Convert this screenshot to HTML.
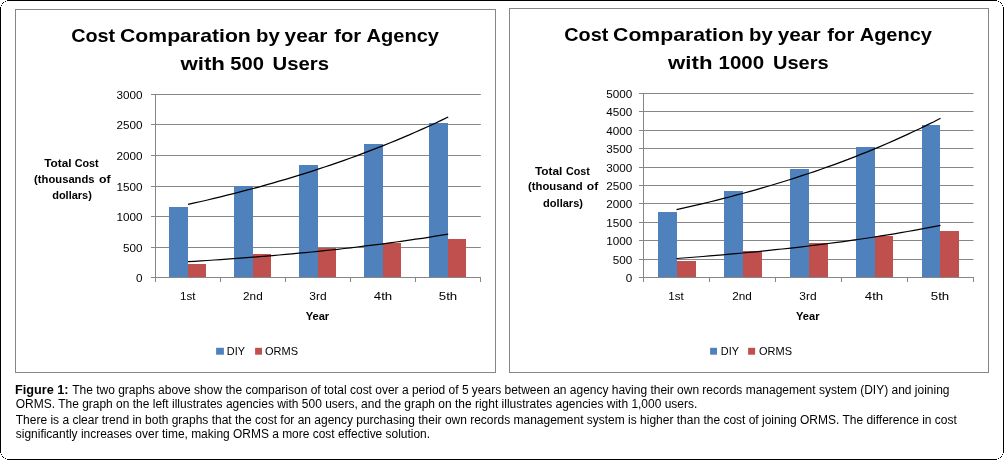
<!DOCTYPE html>
<html lang="en">
<head>
<meta charset="utf-8">
<title>Figure 1</title>
<style>
html,body{margin:0;padding:0;background:#fff;}
body{width:1004px;height:460px;overflow:hidden;}
svg{display:block;font-family:'Liberation Sans', sans-serif;}
</style>
</head>
<body>
<svg width="1004" height="460" viewBox="0 0 1004 460">
<rect width="1004" height="460" fill="#fff"/>
<path d="M7 0.5H997M1003.5 7V453M997 459.5H7M0.5 453V7" fill="none" stroke="#000" stroke-width="1"/>
<g fill="#000"><rect x="1" y="5" width="1" height="1"/><rect x="1" y="454" width="1" height="1"/><rect x="1002" y="5" width="1" height="1"/><rect x="1002" y="454" width="1" height="1"/><rect x="2" y="3" width="1" height="1"/><rect x="2" y="456" width="1" height="1"/><rect x="1001" y="3" width="1" height="1"/><rect x="1001" y="456" width="1" height="1"/><rect x="3" y="2" width="1" height="1"/><rect x="3" y="457" width="1" height="1"/><rect x="1000" y="2" width="1" height="1"/><rect x="1000" y="457" width="1" height="1"/><rect x="5" y="1" width="1" height="1"/><rect x="5" y="458" width="1" height="1"/><rect x="998" y="1" width="1" height="1"/><rect x="998" y="458" width="1" height="1"/></g>
<g>
<rect x="15.5" y="9.5" width="480" height="363" fill="#fff" stroke="#868686" stroke-width="1"/>
<line x1="151.0" y1="277.5" x2="480.8" y2="277.5" stroke="#868686" stroke-width="1"/>
<line x1="151.0" y1="247.5" x2="480.8" y2="247.5" stroke="#868686" stroke-width="1"/>
<line x1="151.0" y1="216.5" x2="480.8" y2="216.5" stroke="#868686" stroke-width="1"/>
<line x1="151.0" y1="186.5" x2="480.8" y2="186.5" stroke="#868686" stroke-width="1"/>
<line x1="151.0" y1="155.5" x2="480.8" y2="155.5" stroke="#868686" stroke-width="1"/>
<line x1="151.0" y1="124.5" x2="480.8" y2="124.5" stroke="#868686" stroke-width="1"/>
<line x1="151.0" y1="94.5" x2="480.8" y2="94.5" stroke="#868686" stroke-width="1"/>
<line x1="155.5" y1="94" x2="155.5" y2="282" stroke="#868686" stroke-width="1"/>
<line x1="220.5" y1="277" x2="220.5" y2="282" stroke="#868686" stroke-width="1"/>
<line x1="285.5" y1="277" x2="285.5" y2="282" stroke="#868686" stroke-width="1"/>
<line x1="350.5" y1="277" x2="350.5" y2="282" stroke="#868686" stroke-width="1"/>
<line x1="415.5" y1="277" x2="415.5" y2="282" stroke="#868686" stroke-width="1"/>
<line x1="480.5" y1="277" x2="480.5" y2="282" stroke="#868686" stroke-width="1"/>
<rect x="169" y="207" width="19" height="70" fill="#4f81bd"/>
<rect x="188" y="264" width="18" height="13" fill="#c0504d"/>
<rect x="234" y="186" width="19" height="91" fill="#4f81bd"/>
<rect x="253" y="254" width="18" height="23" fill="#c0504d"/>
<rect x="299" y="165" width="19" height="112" fill="#4f81bd"/>
<rect x="318" y="248" width="18" height="29" fill="#c0504d"/>
<rect x="364" y="144" width="19" height="133" fill="#4f81bd"/>
<rect x="383" y="243" width="18" height="34" fill="#c0504d"/>
<rect x="429" y="123" width="19" height="154" fill="#4f81bd"/>
<rect x="448" y="239" width="18" height="38" fill="#c0504d"/>
<polyline points="188.0,204.4 194.5,202.9 201.0,201.5 207.5,200.0 214.0,198.4 220.6,196.8 227.1,195.2 233.6,193.6 240.1,191.9 246.6,190.2 253.1,188.5 259.6,186.8 266.1,184.9 272.6,183.1 279.1,181.2 285.6,179.3 292.1,177.4 298.6,175.4 305.1,173.4 311.6,171.3 318.1,169.2 324.6,167.0 331.1,164.8 337.6,162.6 344.1,160.3 350.6,158.0 357.2,155.6 363.7,153.2 370.2,150.7 376.7,148.2 383.2,145.6 389.7,143.0 396.2,140.4 402.7,137.6 409.2,134.9 415.7,132.0 422.2,129.1 428.7,126.2 435.2,123.2 441.7,120.1 448.2,117.0" fill="none" stroke="#000" stroke-width="1.25"/>
<polyline points="188.0,261.7 194.5,261.3 201.0,260.9 207.5,260.5 214.0,260.0 220.6,259.6 227.1,259.1 233.6,258.6 240.1,258.2 246.6,257.7 253.1,257.2 259.6,256.6 266.1,256.1 272.6,255.6 279.1,255.0 285.6,254.4 292.1,253.8 298.6,253.2 305.1,252.6 311.6,252.0 318.1,251.3 324.6,250.6 331.1,250.0 337.6,249.3 344.1,248.5 350.6,247.8 357.2,247.0 363.7,246.2 370.2,245.4 376.7,244.6 383.2,243.8 389.7,242.9 396.2,242.0 402.7,241.1 409.2,240.2 415.7,239.2 422.2,238.3 428.7,237.3 435.2,236.2 441.7,235.2 448.2,234.1" fill="none" stroke="#000" stroke-width="1.25"/>
<text x="142.6" y="282.4" font-size="11.3" text-anchor="end" textLength="6.5" lengthAdjust="spacingAndGlyphs">0</text>
<text x="142.6" y="252.4" font-size="11.3" text-anchor="end" textLength="19.5" lengthAdjust="spacingAndGlyphs">500</text>
<text x="142.6" y="221.4" font-size="11.3" text-anchor="end" textLength="26" lengthAdjust="spacingAndGlyphs">1000</text>
<text x="142.6" y="191.4" font-size="11.3" text-anchor="end" textLength="26" lengthAdjust="spacingAndGlyphs">1500</text>
<text x="142.6" y="160.4" font-size="11.3" text-anchor="end" textLength="26" lengthAdjust="spacingAndGlyphs">2000</text>
<text x="142.6" y="129.4" font-size="11.3" text-anchor="end" textLength="26" lengthAdjust="spacingAndGlyphs">2500</text>
<text x="142.6" y="99.4" font-size="11.3" text-anchor="end" textLength="26" lengthAdjust="spacingAndGlyphs">3000</text>
<text x="187.8" y="299.8" font-size="11.3" text-anchor="middle" textLength="15.5" lengthAdjust="spacingAndGlyphs">1st</text>
<text x="252.9" y="299.8" font-size="11.3" text-anchor="middle" textLength="19.6" lengthAdjust="spacingAndGlyphs">2nd</text>
<text x="317.9" y="299.8" font-size="11.3" text-anchor="middle" textLength="17.3" lengthAdjust="spacingAndGlyphs">3rd</text>
<text x="383.0" y="299.8" font-size="11.3" text-anchor="middle" textLength="18.5" lengthAdjust="spacingAndGlyphs">4th</text>
<text x="448.0" y="299.8" font-size="11.3" text-anchor="middle" textLength="18.5" lengthAdjust="spacingAndGlyphs">5th</text>
<text x="317.4" y="319.7" font-size="11.3" text-anchor="middle" font-weight="bold" textLength="23.5" lengthAdjust="spacingAndGlyphs">Year</text>
<rect x="216.1" y="347.8" width="7.8" height="6.9" fill="#4f81bd"/>
<text x="226.79999999999998" y="355.4" font-size="11.3" textLength="18.2" lengthAdjust="spacingAndGlyphs">DIY</text>
<rect x="255.1" y="347.8" width="6.9" height="6.9" fill="#c0504d"/>
<text x="265.0" y="355.4" font-size="11.3" textLength="33.0" lengthAdjust="spacingAndGlyphs">ORMS</text>
<text x="71.2" y="41.9" font-size="19" font-weight="bold" textLength="44.0" lengthAdjust="spacingAndGlyphs">Cost</text>
<text x="120.0" y="41.9" font-size="19" font-weight="bold" textLength="130.8" lengthAdjust="spacingAndGlyphs">Comparation</text>
<text x="256.0" y="41.9" font-size="19" font-weight="bold" textLength="23.7" lengthAdjust="spacingAndGlyphs">by</text>
<text x="284.6" y="41.9" font-size="19" font-weight="bold" textLength="42.9" lengthAdjust="spacingAndGlyphs">year</text>
<text x="334.2" y="41.9" font-size="19" font-weight="bold" textLength="27.0" lengthAdjust="spacingAndGlyphs">for</text>
<text x="366.6" y="41.9" font-size="19" font-weight="bold" textLength="72.3" lengthAdjust="spacingAndGlyphs">Agency</text>
<text x="180.4" y="70.4" font-size="19" font-weight="bold" textLength="44.6" lengthAdjust="spacingAndGlyphs">with</text>
<text x="230.2" y="70.4" font-size="19" font-weight="bold" textLength="33.7" lengthAdjust="spacingAndGlyphs">500</text>
<text x="272.5" y="70.4" font-size="19" font-weight="bold" textLength="56.5" lengthAdjust="spacingAndGlyphs">Users</text>
<text x="44.2" y="166.7" font-size="11.3" font-weight="bold" textLength="27.4" lengthAdjust="spacingAndGlyphs">Total</text>
<text x="74.7" y="166.7" font-size="11.3" font-weight="bold" textLength="24.0" lengthAdjust="spacingAndGlyphs">Cost</text>
<text x="34.1" y="182.7" font-size="11.3" font-weight="bold" textLength="60.5" lengthAdjust="spacingAndGlyphs">(thousands</text>
<text x="98.9" y="182.7" font-size="11.3" font-weight="bold" textLength="11.6" lengthAdjust="spacingAndGlyphs">of</text>
<text x="52.2" y="198.5" font-size="11.3" font-weight="bold" textLength="39.7" lengthAdjust="spacingAndGlyphs">dollars)</text>
</g>
<g>
<rect x="509.5" y="8.5" width="479" height="364" fill="#fff" stroke="#868686" stroke-width="1"/>
<line x1="639.0" y1="277.5" x2="973.5" y2="277.5" stroke="#868686" stroke-width="1"/>
<line x1="639.0" y1="259.5" x2="973.5" y2="259.5" stroke="#868686" stroke-width="1"/>
<line x1="639.0" y1="240.5" x2="973.5" y2="240.5" stroke="#868686" stroke-width="1"/>
<line x1="639.0" y1="222.5" x2="973.5" y2="222.5" stroke="#868686" stroke-width="1"/>
<line x1="639.0" y1="203.5" x2="973.5" y2="203.5" stroke="#868686" stroke-width="1"/>
<line x1="639.0" y1="185.5" x2="973.5" y2="185.5" stroke="#868686" stroke-width="1"/>
<line x1="639.0" y1="167.5" x2="973.5" y2="167.5" stroke="#868686" stroke-width="1"/>
<line x1="639.0" y1="148.5" x2="973.5" y2="148.5" stroke="#868686" stroke-width="1"/>
<line x1="639.0" y1="130.5" x2="973.5" y2="130.5" stroke="#868686" stroke-width="1"/>
<line x1="639.0" y1="111.5" x2="973.5" y2="111.5" stroke="#868686" stroke-width="1"/>
<line x1="639.0" y1="93.5" x2="973.5" y2="93.5" stroke="#868686" stroke-width="1"/>
<line x1="643.5" y1="93" x2="643.5" y2="282" stroke="#868686" stroke-width="1"/>
<line x1="709.5" y1="277" x2="709.5" y2="282" stroke="#868686" stroke-width="1"/>
<line x1="775.5" y1="277" x2="775.5" y2="282" stroke="#868686" stroke-width="1"/>
<line x1="841.5" y1="277" x2="841.5" y2="282" stroke="#868686" stroke-width="1"/>
<line x1="907.5" y1="277" x2="907.5" y2="282" stroke="#868686" stroke-width="1"/>
<line x1="973.5" y1="277" x2="973.5" y2="282" stroke="#868686" stroke-width="1"/>
<rect x="658" y="212" width="19" height="65" fill="#4f81bd"/>
<rect x="677" y="261" width="19" height="16" fill="#c0504d"/>
<rect x="724" y="191" width="19" height="86" fill="#4f81bd"/>
<rect x="743" y="251" width="19" height="26" fill="#c0504d"/>
<rect x="790" y="169" width="19" height="108" fill="#4f81bd"/>
<rect x="809" y="243" width="19" height="34" fill="#c0504d"/>
<rect x="856" y="147" width="19" height="130" fill="#4f81bd"/>
<rect x="875" y="236" width="18" height="41" fill="#c0504d"/>
<rect x="922" y="125" width="18" height="152" fill="#4f81bd"/>
<rect x="940" y="231" width="19" height="46" fill="#c0504d"/>
<polyline points="676.5,209.6 683.1,208.1 689.7,206.6 696.3,205.1 702.9,203.6 709.5,202.0 716.1,200.3 722.7,198.7 729.3,197.0 735.9,195.2 742.5,193.5 749.1,191.7 755.7,189.8 762.3,187.9 768.9,186.0 775.5,184.0 782.1,182.0 788.7,180.0 795.3,177.9 801.9,175.7 808.5,173.5 815.1,171.3 821.7,169.0 828.3,166.7 834.9,164.3 841.5,161.8 848.1,159.4 854.7,156.8 861.3,154.2 867.9,151.6 874.5,148.8 881.1,146.1 887.7,143.2 894.3,140.4 900.9,137.4 907.5,134.4 914.1,131.3 920.7,128.2 927.3,124.9 933.9,121.7 940.5,118.3" fill="none" stroke="#000" stroke-width="1.25"/>
<polyline points="676.5,258.5 683.1,258.0 689.7,257.5 696.3,257.0 702.9,256.5 709.5,255.9 716.1,255.4 722.7,254.8 729.3,254.2 735.9,253.6 742.5,253.0 749.1,252.4 755.7,251.8 762.3,251.1 768.9,250.4 775.5,249.7 782.1,249.0 788.7,248.3 795.3,247.6 801.9,246.8 808.5,246.0 815.1,245.2 821.7,244.4 828.3,243.5 834.9,242.7 841.5,241.8 848.1,240.9 854.7,239.9 861.3,239.0 867.9,238.0 874.5,237.0 881.1,235.9 887.7,234.9 894.3,233.8 900.9,232.6 907.5,231.5 914.1,230.3 920.7,229.1 927.3,227.9 933.9,226.6 940.5,225.3" fill="none" stroke="#000" stroke-width="1.25"/>
<text x="632.3" y="282.4" font-size="11.3" text-anchor="end" textLength="6.5" lengthAdjust="spacingAndGlyphs">0</text>
<text x="632.3" y="264.4" font-size="11.3" text-anchor="end" textLength="19.5" lengthAdjust="spacingAndGlyphs">500</text>
<text x="632.3" y="245.4" font-size="11.3" text-anchor="end" textLength="26" lengthAdjust="spacingAndGlyphs">1000</text>
<text x="632.3" y="227.4" font-size="11.3" text-anchor="end" textLength="26" lengthAdjust="spacingAndGlyphs">1500</text>
<text x="632.3" y="208.4" font-size="11.3" text-anchor="end" textLength="26" lengthAdjust="spacingAndGlyphs">2000</text>
<text x="632.3" y="190.4" font-size="11.3" text-anchor="end" textLength="26" lengthAdjust="spacingAndGlyphs">2500</text>
<text x="632.3" y="172.4" font-size="11.3" text-anchor="end" textLength="26" lengthAdjust="spacingAndGlyphs">3000</text>
<text x="632.3" y="153.4" font-size="11.3" text-anchor="end" textLength="26" lengthAdjust="spacingAndGlyphs">3500</text>
<text x="632.3" y="135.4" font-size="11.3" text-anchor="end" textLength="26" lengthAdjust="spacingAndGlyphs">4000</text>
<text x="632.3" y="116.4" font-size="11.3" text-anchor="end" textLength="26" lengthAdjust="spacingAndGlyphs">4500</text>
<text x="632.3" y="98.4" font-size="11.3" text-anchor="end" textLength="26" lengthAdjust="spacingAndGlyphs">5000</text>
<text x="676.0" y="299.8" font-size="11.3" text-anchor="middle" textLength="15.5" lengthAdjust="spacingAndGlyphs">1st</text>
<text x="742.0" y="299.8" font-size="11.3" text-anchor="middle" textLength="19.6" lengthAdjust="spacingAndGlyphs">2nd</text>
<text x="808.0" y="299.8" font-size="11.3" text-anchor="middle" textLength="17.3" lengthAdjust="spacingAndGlyphs">3rd</text>
<text x="874.0" y="299.8" font-size="11.3" text-anchor="middle" textLength="18.5" lengthAdjust="spacingAndGlyphs">4th</text>
<text x="940.0" y="299.8" font-size="11.3" text-anchor="middle" textLength="18.5" lengthAdjust="spacingAndGlyphs">5th</text>
<text x="807.8" y="319.7" font-size="11.3" text-anchor="middle" font-weight="bold" textLength="23.5" lengthAdjust="spacingAndGlyphs">Year</text>
<rect x="710.1" y="347.8" width="6.9" height="6.9" fill="#4f81bd"/>
<text x="720.8000000000001" y="355.4" font-size="11.3" textLength="18.2" lengthAdjust="spacingAndGlyphs">DIY</text>
<rect x="748.1" y="347.8" width="7.0" height="6.9" fill="#c0504d"/>
<text x="759.0" y="355.4" font-size="11.3" textLength="33.0" lengthAdjust="spacingAndGlyphs">ORMS</text>
<text x="564.3" y="40.9" font-size="19" font-weight="bold" textLength="44.0" lengthAdjust="spacingAndGlyphs">Cost</text>
<text x="613.1" y="40.9" font-size="19" font-weight="bold" textLength="130.8" lengthAdjust="spacingAndGlyphs">Comparation</text>
<text x="749.1" y="40.9" font-size="19" font-weight="bold" textLength="23.7" lengthAdjust="spacingAndGlyphs">by</text>
<text x="777.7" y="40.9" font-size="19" font-weight="bold" textLength="42.9" lengthAdjust="spacingAndGlyphs">year</text>
<text x="827.3" y="40.9" font-size="19" font-weight="bold" textLength="27.0" lengthAdjust="spacingAndGlyphs">for</text>
<text x="859.7" y="40.9" font-size="19" font-weight="bold" textLength="72.3" lengthAdjust="spacingAndGlyphs">Agency</text>
<text x="668.1" y="69.4" font-size="19" font-weight="bold" textLength="44.4" lengthAdjust="spacingAndGlyphs">with</text>
<text x="718.5" y="69.4" font-size="19" font-weight="bold" textLength="45.6" lengthAdjust="spacingAndGlyphs">1000</text>
<text x="773.0" y="69.4" font-size="19" font-weight="bold" textLength="55.7" lengthAdjust="spacingAndGlyphs">Users</text>
<text x="534.9" y="174.5" font-size="11.3" font-weight="bold" textLength="27.5" lengthAdjust="spacingAndGlyphs">Total</text>
<text x="565.9" y="174.5" font-size="11.3" font-weight="bold" textLength="23.9" lengthAdjust="spacingAndGlyphs">Cost</text>
<text x="528.0" y="190.4" font-size="11.3" font-weight="bold" textLength="54.7" lengthAdjust="spacingAndGlyphs">(thousand</text>
<text x="586.8" y="190.4" font-size="11.3" font-weight="bold" textLength="11.5" lengthAdjust="spacingAndGlyphs">of</text>
<text x="543.1" y="206.5" font-size="11.3" font-weight="bold" textLength="39.9" lengthAdjust="spacingAndGlyphs">dollars)</text>
</g>
<g>
<text x="15.0" y="393.7" font-size="12" font-weight="bold" textLength="53.6" lengthAdjust="spacingAndGlyphs">Figure 1:</text>
<text x="72.2" y="393.7" font-size="12" textLength="877.3" lengthAdjust="spacingAndGlyphs">The two graphs above show the comparison of total cost over a period of 5 years between an agency having their own records management system (DIY) and joining</text>
<text x="15.8" y="408.0" font-size="12" textLength="681.5" lengthAdjust="spacingAndGlyphs">ORMS. The graph on the left illustrates agencies with 500 users, and the graph on the right illustrates agencies with 1,000 users.</text>
<text x="15.8" y="423.7" font-size="12" textLength="941" lengthAdjust="spacingAndGlyphs">There is a clear trend in both graphs that the cost for an agency purchasing their own records management system is higher than the cost of joining ORMS. The difference in cost</text>
<text x="15.8" y="437.8" font-size="12" textLength="414.3" lengthAdjust="spacingAndGlyphs">significantly increases over time, making ORMS a more cost effective solution.</text>
</g>
</svg>
</body>
</html>
